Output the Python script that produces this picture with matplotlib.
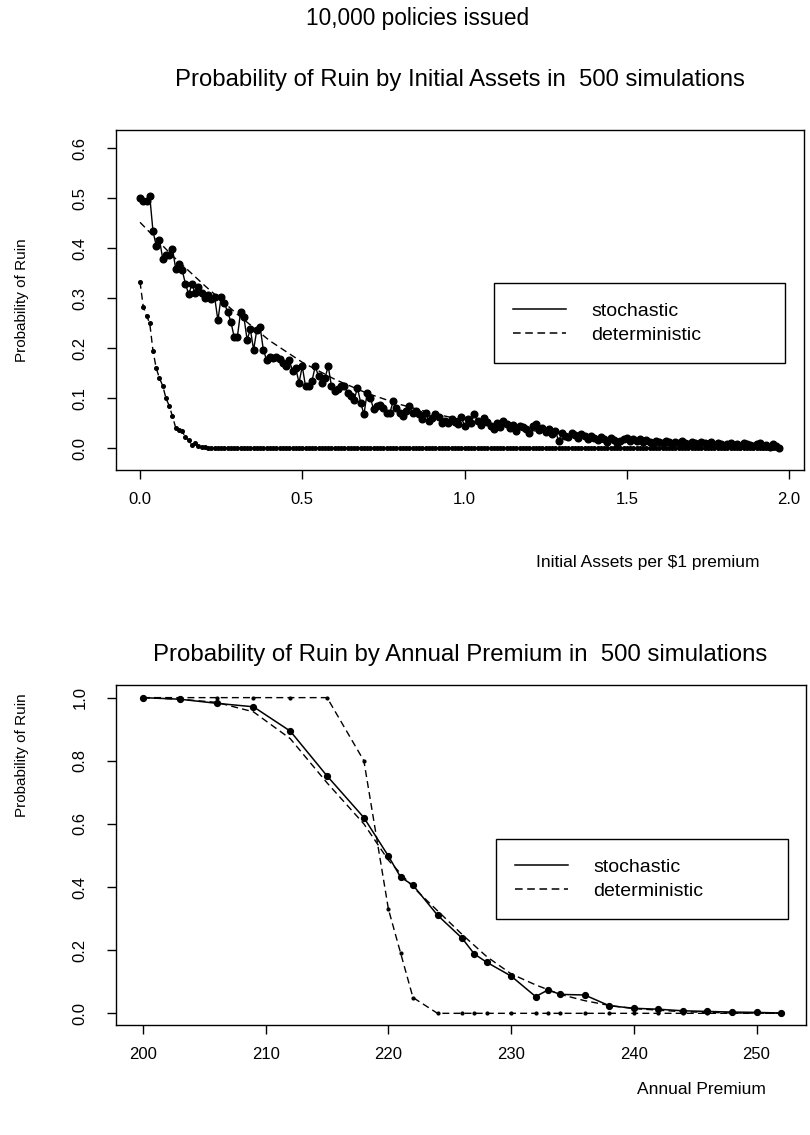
import numpy as np
import matplotlib.pyplot as plt
from matplotlib.lines import Line2D
from matplotlib.ticker import FormatStrFormatter

plt.rcParams['font.family'] = ['Liberation Sans', 'DejaVu Sans']

# --- top panel: ruin probability vs initial assets per $1 premium
assets = np.arange(198) / 100
ruin_stoch_assets = [
    0.500, 0.495, 0.495, 0.504, 0.434, 0.405, 0.417, 0.379, 0.386, 0.386,
    0.399, 0.359, 0.369, 0.356, 0.329, 0.308, 0.328, 0.310, 0.323, 0.310,
    0.300, 0.306, 0.298, 0.302, 0.256, 0.303, 0.290, 0.273, 0.253, 0.223,
    0.223, 0.273, 0.263, 0.217, 0.238, 0.197, 0.237, 0.243, 0.197, 0.177,
    0.183, 0.180, 0.183, 0.178, 0.170, 0.164, 0.177, 0.154, 0.160, 0.131,
    0.164, 0.124, 0.124, 0.135, 0.164, 0.144, 0.131, 0.141, 0.164, 0.124,
    0.114, 0.118, 0.124, 0.124, 0.110, 0.104, 0.097, 0.121, 0.091, 0.068,
    0.111, 0.100, 0.078, 0.085, 0.087, 0.080, 0.071, 0.071, 0.094, 0.080,
    0.071, 0.064, 0.075, 0.084, 0.070, 0.075, 0.068, 0.058, 0.071, 0.054,
    0.060, 0.068, 0.062, 0.051, 0.055, 0.050, 0.058, 0.052,
    0.048, 0.062, 0.045, 0.058, 0.050, 0.068, 0.055, 0.047, 0.060, 0.052,
    0.044, 0.038, 0.050, 0.042, 0.055, 0.048, 0.040, 0.046, 0.035, 0.044,
    0.042, 0.038, 0.030, 0.045, 0.048, 0.036, 0.040, 0.032, 0.038, 0.028,
    0.034, 0.015, 0.030, 0.025, 0.022, 0.030, 0.026, 0.020, 0.028, 0.024,
    0.018, 0.025, 0.020, 0.016, 0.022, 0.018, 0.012, 0.020, 0.016, 0.010,
    0.014, 0.018, 0.020, 0.015, 0.018, 0.014, 0.018, 0.012, 0.016, 0.013,
    0.010, 0.014, 0.012, 0.010, 0.015, 0.012, 0.008, 0.012, 0.010, 0.014,
    0.010, 0.008, 0.012, 0.010, 0.006, 0.012, 0.010, 0.008, 0.012, 0.006,
    0.010, 0.008, 0.004, 0.008, 0.010, 0.006, 0.008, 0.004, 0.010, 0.008,
    0.006, 0.004, 0.008, 0.010, 0.004, 0.006, 0.002, 0.008, 0.004, 0.000,
]
ruin_det_assets = [
    0.333, 0.283, 0.265, 0.250, 0.195, 0.160, 0.140, 0.125, 0.100, 0.085,
    0.064, 0.041, 0.037, 0.034, 0.022, 0.016, 0.006, 0.010, 0.004, 0.002,
    0.002, 0.001,
] + [0.0] * 176
# smooth approximation (dashed, not in legend)
approx_assets_x = [0, 0.1, 0.2, 0.3, 0.4, 0.5, 0.6, 0.7, 0.8, 0.9, 1.0,
                   1.2, 1.4, 1.6, 1.8, 1.97]
approx_assets_y = [0.452, 0.385, 0.325, 0.268, 0.215, 0.172, 0.138, 0.110,
                   0.088, 0.070, 0.056, 0.036, 0.022, 0.013, 0.008, 0.005]

# --- bottom panel: ruin probability vs annual premium
premium = [200, 203, 206, 209, 212, 215, 218, 220, 221, 222, 224, 226, 227,
           228, 230, 232, 233, 234, 236, 238, 240, 242, 244, 246, 248, 250, 252]
ruin_stoch_prem = [1.000, 0.995, 0.982, 0.971, 0.894, 0.752, 0.620, 0.498,
                   0.431, 0.406, 0.311, 0.238, 0.188, 0.162, 0.118, 0.053,
                   0.074, 0.060, 0.058, 0.024, 0.016, 0.013, 0.008, 0.006,
                   0.004, 0.003, 0.001]
ruin_det_prem = [1.0, 1.0, 1.0, 1.0, 1.0, 1.0, 0.80, 0.33, 0.19, 0.05] + [0.0] * 17
approx_prem_x = [200, 203, 206, 209, 212, 215, 218, 220, 222, 224, 226, 228,
                 230, 232, 234, 236, 238, 240, 244, 248, 252]
approx_prem_y = [1.0, 0.995, 0.985, 0.955, 0.870, 0.730, 0.600, 0.485, 0.400,
                 0.325, 0.250, 0.180, 0.125, 0.090, 0.060, 0.040, 0.025,
                 0.015, 0.005, 0.001, 0.0]

W, H = 810, 1135
fig = plt.figure(figsize=(W / 100, H / 100), dpi=100)
dash = (5, 3)


def frac(left, top, right, bottom):
    return [left / W, 1 - bottom / H, (right - left) / W, (bottom - top) / H]


def style(ax):
    for s in ax.spines.values():
        s.set_linewidth(1.0)
    ax.tick_params(direction='out', length=6.5, width=1, labelsize=12)
    ax.tick_params(axis='x', pad=9)
    ax.tick_params(axis='y', pad=14, labelrotation=90)
    for lab in ax.get_yticklabels():
        lab.set_va('center')


def add_legend(ax, left, top, right):
    handles = [Line2D([], [], color='black', lw=1.1),
               Line2D([], [], color='black', lw=1.1, dashes=dash)]
    leg = ax.legend(handles, ['stochastic', 'deterministic'],
                    loc='upper left', mode='expand',
                    bbox_to_anchor=(left / W, 1 - top / H, (right - left) / W, 0),
                    bbox_transform=fig.transFigure, borderaxespad=0,
                    fontsize=14, handlelength=2.7, handletextpad=1.3,
                    labelspacing=0.3, borderpad=1.0, fancybox=False,
                    edgecolor='black', framealpha=1)
    leg.get_frame().set_linewidth(1.0)


# top panel
ax1 = fig.add_axes(frac(116, 130, 804, 470))
ax1.plot(approx_assets_x, approx_assets_y, color='black', lw=1.0, dashes=dash)
ax1.plot(assets, ruin_det_assets, color='black', lw=1.0, dashes=dash,
         marker='o', ms=2.6)
ax1.plot(assets, ruin_stoch_assets, color='black', lw=1.0, marker='o', ms=4.8)
ax1.set_xlim(-0.074, 2.046)
ax1.set_ylim(-0.0434, 0.6366)
ax1.set_xticks([0, 0.5, 1.0, 1.5, 2.0])
ax1.set_yticks([0, 0.1, 0.2, 0.3, 0.4, 0.5, 0.6])
ax1.xaxis.set_major_formatter(FormatStrFormatter('%.1f'))
ax1.yaxis.set_major_formatter(FormatStrFormatter('%.1f'))
style(ax1)
add_legend(ax1, 494, 283, 785)

# bottom panel
ax2 = fig.add_axes(frac(116, 685, 806, 1025))
ax2.plot(approx_prem_x, approx_prem_y, color='black', lw=1.0, dashes=dash)
ax2.plot(premium, ruin_det_prem, color='black', lw=1.0, dashes=dash,
         marker='o', ms=2.0)
ax2.plot(premium, ruin_stoch_prem, color='black', lw=1.1, marker='o', ms=4.2)
ax2.set_xlim(197.8, 254.03)
ax2.set_ylim(-0.037, 1.040)
ax2.set_xticks([200, 210, 220, 230, 240, 250])
ax2.set_yticks([0, 0.2, 0.4, 0.6, 0.8, 1.0])
ax2.yaxis.set_major_formatter(FormatStrFormatter('%.1f'))
style(ax2)
add_legend(ax2, 496, 839, 788)

# titles and axis labels
fig.text(418 / W, 1 - 18 / H, '10,000 policies issued', fontsize=16.3,
         ha='center', va='center')
fig.text(460 / W, 1 - 80 / H,
         'Probability of Ruin by Initial Assets in  500 simulations',
         fontsize=17.2, ha='center', va='center')
fig.text(460 / W, 1 - 655 / H,
         'Probability of Ruin by Annual Premium in  500 simulations',
         fontsize=17.3, ha='center', va='center')
fig.text(648 / W, 1 - 563 / H, r'Initial Assets per \$1 premium',
         fontsize=12.5, ha='center', va='center')
fig.text(701 / W, 1 - 1090 / H, 'Annual Premium', fontsize=12.5,
         ha='center', va='center')
fig.text(22 / W, 1 - 300 / H, 'Probability of Ruin', fontsize=11,
         rotation=90, ha='center', va='center')
fig.text(22 / W, 1 - 755 / H, 'Probability of Ruin', fontsize=11,
         rotation=90, ha='center', va='center')

fig.savefig('out.png', dpi=100)
